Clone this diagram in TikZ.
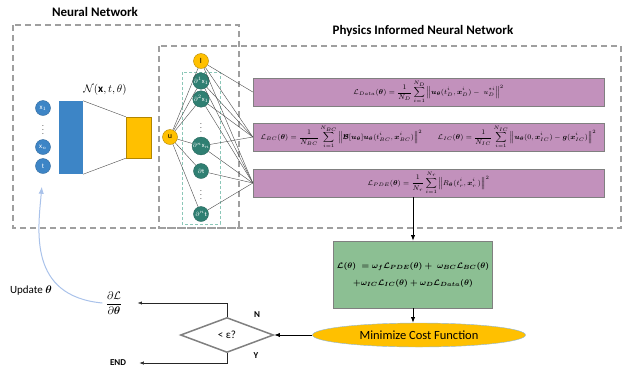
\documentclass[tikz,border=0pt]{standalone}
\usepackage{amsmath}
\usepackage{bm}
\usepackage{fontspec}
\setmainfont{Carlito}
\usepackage{xcolor}
\usepackage{tikz}
\usetikzlibrary{arrows.meta,positioning,shapes.geometric}

\definecolor{nnblue}{HTML}{3D85C6}
\definecolor{nnorange}{HTML}{FFC000}
\definecolor{pteal}{HTML}{2F7F72}
\definecolor{lossmauve}{HTML}{C291BC}
\definecolor{sumgreen}{HTML}{8CBF93}
\definecolor{backblue}{HTML}{A9C2EA}
\definecolor{tealdash}{HTML}{8CC7B8}

\begin{document}
\begin{tikzpicture}[x=1pt, y=-1pt,
  font=\small,
  frame/.style={draw=gray!75, dashed, dash pattern=on 6pt off 4pt, line width=1.1pt},
  inp/.style={circle, fill=nnblue, draw=nnblue!80!black, minimum size=15pt, inner sep=0pt, text=white, font=\scriptsize},
  drv/.style={circle, fill=pteal, draw=pteal!80!black, minimum size=15pt, inner sep=0pt, text=white, font=\fontsize{6.5}{7}\selectfont},
  outp/.style={circle, fill=nnorange, draw=nnorange!70!black, minimum size=15pt, inner sep=0pt, font=\footnotesize},
  loss/.style={rectangle, draw=gray, fill=lossmauve, minimum width=351pt, minimum height=28pt, inner sep=0pt, font=\fontsize{7}{8}\selectfont},
  link/.style={draw=gray!60!black, line width=0.4pt},
  arr/.style={-{Latex[length=2mm]}, thick},
  tarr/.style={-{Latex[length=1.5mm]}, draw=gray!30!black}
]
  \useasboundingbox (0,0) rectangle (626,368);

  % frames
  \draw[frame] (13,25) rectangle (239,228);
  \draw[frame] (159,46) rectangle (621,228);
  \draw[draw=tealdash, dashed, dash pattern=on 3pt off 2pt] (182,72) rectangle (220,224);
  \node[font=\bfseries\fontsize{13}{15}\selectfont] (nntitle) at (95,12) {Neural Network};
  \node[font=\bfseries\fontsize{13}{15}\selectfont] (pinntitle) at (423,31) {Physics Informed Neural Network};

  % neural network
  \node[inp] (x1) at (43,108) {$\mathrm{x}_1$};
  \node[font=\scriptsize] (vd) at (43,127) {$\vdots$};
  \node[inp] (xn) at (43,147) {$\mathrm{x}_n$};
  \node[inp] (t) at (43,166) {t};
  \node[rectangle, fill=nnblue, minimum width=24pt, minimum height=73pt] (enc) at (71,137.5) {};
  \node[rectangle, fill=nnorange, draw=nnorange!70!black, minimum width=25pt, minimum height=41pt] (dec) at (138.5,137.5) {};
  \draw[link] (enc.north east) -- (dec.north west);
  \draw[link] (enc.south east) -- (dec.south west);
  \node[font=\fontsize{11}{13}\selectfont] (netlab) at (105,90) {$\mathcal{N}(\mathbf{x},t,\theta)$};

  % derivatives
  \node[outp] (u) at (170,137) {u};
  \node[outp] (I) at (201,61) {I};
  \foreach \n/\y/\lab in {d1/81/{$\partial^1\mathrm{x}_1$}, d2/99/{$\partial^2\mathrm{x}_1$},
      d3/146/{$\partial^n\mathrm{x}_n$}, d4/171/{$\partial\mathrm{t}$}, d5/214/{$\partial^n\mathrm{t}$}}
    \node[drv] (\n) at (201,\y) {\lab};
  \node[font=\scriptsize] (vd2) at (201,125) {$\vdots$};
  \node[font=\scriptsize] (vd3) at (201,192) {$\vdots$};
  \foreach \n in {I,d1,d2,d3,d4,d5}
    \draw[link] (u) -- (\n);

  % loss terms
  \node[loss] (ldata) at (428.5,92) {$\displaystyle \mathcal{L}_{Data}(\bm{\theta}) = \frac{1}{N_D}\sum_{i=1}^{N_D}\left\|\bm{u}_{\bm{\theta}}(t_D^i,\bm{x}_D^i) - \; u_D^{*i}\right\|^2$};
  \node[loss] (lbc) at (428.5,137) {$\displaystyle \mathcal{L}_{BC}(\bm{\theta}) = \frac{1}{N_{BC}}\sum_{i=1}^{N_{BC}}\left\|\bm{\mathcal{B}}[\bm{u}_{\bm{\theta}}]\bm{u}_{\bm{\theta}}(t_{BC}^i,\bm{x}_{BC}^i)\right\|^2 \qquad
    \mathcal{L}_{IC}(\bm{\theta}) = \frac{1}{N_{IC}}\sum_{i=1}^{N_{IC}}\left\|\bm{u}_{\bm{\theta}}(0,\bm{x}_{IC}^i) - \bm{g}(\bm{x}_{IC}^i)\right\|^2$};
  \node[loss] (lpde) at (428.5,183) {$\displaystyle \mathcal{L}_{PDE}(\bm{\theta}) = \frac{1}{N_r}\sum_{i=1}^{N_r}\left\|R_{\bm{\theta}}(t_r^i,\bm{x}_r^i\,)\right\|^2$};
  \foreach \b in {ldata,lbc,lpde}
    \draw[link] (I) -- (\b.west);
  \foreach \n in {d1,d2,d3} {
    \draw[link] (\n) -- (lbc.west);
    \draw[link] (\n) -- (lpde.west);
  }
  \draw[link] (d4) -- (lpde.west);
  \draw[link] (d5) -- (lpde.west);

  % total loss and optimisation
  \node[rectangle, draw=gray, fill=sumgreen, minimum width=152pt, minimum height=67pt, align=center, font=\fontsize{8}{17}\selectfont\boldmath] (total) at (413,274.5)
    {$\mathcal{L}(\bm{\theta}) \;= \bm{\omega}_f\mathcal{L}_{PDE}(\bm{\theta}) + \;\bm{\omega}_{BC}\mathcal{L}_{BC}(\bm{\theta})$\\
     $+\bm{\omega}_{IC}\mathcal{L}_{IC}(\bm{\theta}) + \bm{\omega}_{D}\mathcal{L}_{Data}(\bm{\theta})$};
  \node[ellipse, fill=nnorange, draw=nnblue!60, minimum width=213pt, minimum height=24pt, inner sep=0pt, font=\fontsize{12.5}{14}\selectfont] (mincost) at (419,335) {Minimize Cost Function};
  \node[diamond, draw=gray, line width=1.5pt, minimum width=93pt, minimum height=35pt, aspect=2.6, inner sep=0pt, font=\fontsize{11}{13}\selectfont] (check) at (227,335) {< ε?};
  \node[font=\bfseries\small] (nlab) at (257,315) {N};
  \node[font=\bfseries\small] (ylab) at (256,356) {Y};
  \node[font=\fontsize{11}{13}\selectfont] (grad) at (114,303) {$\dfrac{\partial\mathcal{L}}{\partial\bm{\theta}}$};
  \node[font=\bfseries\small] (endn) at (118,363) {END};
  \node[font=\fontsize{11}{13}\selectfont] (upd) at (31,291) {Update $\bm{\theta}$};

  \draw[arr] (lpde.south -| total.north) -- (total.north);
  \draw[arr] (total.south) -- (total.south |- mincost.north);
  \draw[arr] (mincost.west) -- (check.east);
  \draw[tarr, shorten >=12pt] (check.north) |- (grad.east);
  \draw[tarr, shorten >=10pt] (check.south) |- (endn.east);
  \draw[backblue, line width=1pt, -{Latex[length=2.5mm]}, shorten >=13pt] (grad.west) .. controls (28,296) and (38,230) .. (t.south);
\end{tikzpicture}
\end{document}
